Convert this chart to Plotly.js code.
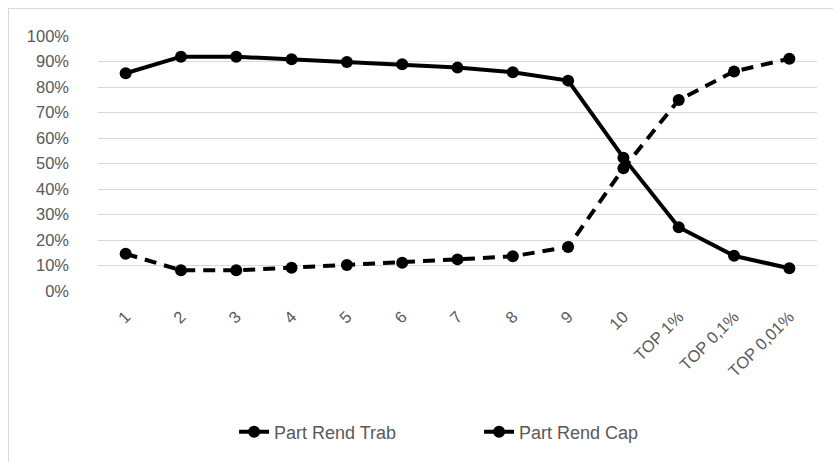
<!DOCTYPE html>
<html>
<head>
<meta charset="utf-8">
<script src="https://cdn.plot.ly/plotly-3.0.1.min.js"></script>
<style>
  html, body { margin: 0; padding: 0; background: #fff; overflow: hidden; }
  #frame { position: absolute; left: 8px; top: 8px; width: 900px; height: 600px; border: 1px solid #d9d9d9; }
  #chart { position: absolute; left: 0; top: 0; width: 833px; height: 462px; }
</style>
</head>
<body>
<div id="frame"></div>
<div id="chart"></div>
<script>
// Income groups (deciles and top fractiles)
const categories = ['1', '2', '3', '4', '5', '6', '7', '8', '9', '10', 'TOP 1%', 'TOP 0,1%', 'TOP 0,01%'];
// Share of labour income
const partRendTrab = [0.854, 0.919, 0.919, 0.909, 0.898, 0.889, 0.876, 0.858, 0.825, 0.523, 0.250, 0.138, 0.089];
// Share of capital income
const partRendCap = [0.146, 0.081, 0.081, 0.091, 0.102, 0.111, 0.124, 0.136, 0.173, 0.481, 0.749, 0.861, 0.911];

const fontFamily = 'Liberation Sans, Arial, sans-serif';
const textColor = '#595959';

const traces = [
  {
    x: categories, y: partRendTrab, name: 'Part Rend Trab',
    type: 'scatter', mode: 'lines+markers',
    line: { color: '#000', width: 4 },
    marker: { color: '#000', size: 12, symbol: 'circle' }
  },
  {
    x: categories, y: partRendCap, name: 'Part Rend Cap',
    type: 'scatter', mode: 'lines+markers',
    line: { color: '#000', width: 4, dash: '12px,8px' },
    marker: { color: '#000', size: 12, symbol: 'circle' }
  }
];

const layout = {
  width: 833, height: 462,
  margin: { l: 98, r: 16, t: 36, b: 171 },
  paper_bgcolor: 'rgba(0,0,0,0)',
  plot_bgcolor: 'rgba(0,0,0,0)',
  font: { family: fontFamily, size: 16.5, color: textColor },
  xaxis: {
    type: 'category',
    range: [-0.5, 12.5],
    tickangle: -45,
    showgrid: false,
    showline: false,
    zeroline: false,
    ticks: '',
    ticklabelstandoff: 12,
    tickfont: { family: fontFamily, size: 16.5, color: textColor },
    fixedrange: true
  },
  yaxis: {
    range: [0, 1],
    dtick: 0.1,
    tickformat: '.0%',
    gridcolor: '#d9d9d9',
    gridwidth: 1,
    zeroline: false,
    showline: false,
    ticks: '',
    ticklabelstandoff: 28,
    tickfont: { family: fontFamily, size: 16.5, color: textColor },
    fixedrange: true
  },
  showlegend: true,
  legend: {
    orientation: 'h',
    x: 0.53, xanchor: 'center',
    y: -0.553, yanchor: 'middle',
    font: { family: fontFamily, size: 18, color: textColor },
    entrywidth: 200,
    entrywidthmode: 'pixels',
    tracegroupgap: 0
  }
};

Plotly.newPlot('chart', traces, layout, { displayModeBar: false, staticPlot: true });
</script>
</body>
</html>
